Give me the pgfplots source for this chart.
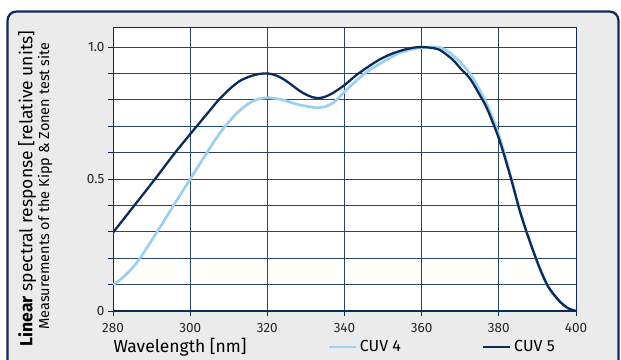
\documentclass[border=0pt]{standalone}
\usepackage{pgfplots}
\pgfplotsset{compat=1.18}
\usepackage{fontspec}
\setmainfont{Fira Sans}
\definecolor{navy}{HTML}{0B2B58}
\definecolor{lightb}{HTML}{9DCFF0}
\definecolor{gridc}{HTML}{2A4570}
\definecolor{panel}{HTML}{EBEBEB}

\pgfplotstableread{
x y
280 0.100
282 0.120
284 0.147
286 0.180
288 0.222
290 0.267
292 0.313
294 0.360
296 0.407
298 0.453
300 0.500
302 0.546
304 0.592
306 0.638
308 0.680
310 0.716
312 0.748
314 0.774
316 0.793
318 0.804
320.3 0.808
324 0.800
328 0.782
333 0.770
336 0.780
338 0.800
340 0.831
345.5 0.903
350 0.944
354 0.976
358 0.993
362 1.000
365 0.997
368 0.970
372.5 0.900
376.8 0.787
380 0.667
382.9 0.520
385.5 0.378
388 0.265
390.6 0.162
392.5 0.100
394 0.067
396 0.033
398 0.010
400 0.000
}\cuvfour

\pgfplotstableread{
x y
280 0.297
285 0.390
290.9 0.500
296.1 0.600
301.7 0.700
305 0.758
307.4 0.800
310 0.838
312.6 0.869
315 0.886
317.5 0.897
320 0.900
322 0.894
324 0.880
326 0.860
328 0.838
330 0.820
332 0.809
333.5 0.807
335 0.812
337 0.826
340 0.856
343 0.893
346 0.924
349 0.952
352 0.973
355 0.988
358 0.998
360 1.000
362 0.998
364.7 0.989
368 0.953
370 0.920
372.5 0.881
375 0.820
377 0.765
380 0.654
382.9 0.515
385.5 0.376
388 0.265
390.6 0.162
392.5 0.100
394 0.067
396 0.033
398 0.010
400 0.000
}\cuvfive

\begin{document}
\begin{tikzpicture}[x=1pt,y=1pt]
\useasboundingbox (0,0) rectangle (621,359);
\clip (0,0) rectangle (621,359);
\filldraw[fill=panel, draw=navy, line width=2.2pt, rounded corners=9pt] (7.5,-20) rectangle (618.5,347.5);
\begin{axis}[
  at={(113pt,48pt)}, anchor=south west, scale only axis,
  width=463pt, height=284pt,
  xmin=280, xmax=400, ymin=0, ymax=1.076,
  axis background/.style={fill=white},
  xtick={280,300,320,340,360,380,400},
  xticklabels={280,300,320,340,360,380,400},
  ytick={0,0.1,0.2,0.3,0.4,0.5,0.6,0.7,0.8,0.9,1.0},
  yticklabels={0,,,,,0.5,,,,,1.0},
  /pgf/number format/assume math mode=true,
  grid=major, grid style={gridc, line width=0.8pt},
  axis line style={navy, line width=0.8pt},
  tick style={navy, line width=0.8pt},
  tick align=outside, major tick length=5pt,
  xtick pos=bottom, ytick pos=left,
  ticklabel style={font=\fontsize{13.5}{13.5}\selectfont, text=black!85},
  xticklabel style={yshift=-4pt},
  legend columns=2,
  legend style={draw=none, fill=none, at={(axis description cs:0.4622,-0.127)}, anchor=west,
    font=\fontsize{16}{16}\selectfont, inner xsep=0pt, inner ysep=0pt,
    nodes={inner xsep=3pt, inner ysep=1pt},
    /tikz/every even column/.append style={column sep=78pt}},
  legend image code/.code={\draw[#1] (0pt,0pt) -- (27pt,0pt);},
]
\addplot[lightb, line width=2.7pt, smooth] table {\cuvfour};
\addlegendentry{CUV 4}
\addplot[navy, line width=2.3pt, smooth] table {\cuvfive};
\addlegendentry{CUV 5}
\draw[navy, line width=2pt] ([xshift=-5pt]rel axis cs:0,0) -- ([xshift=5pt]rel axis cs:1,0);
\end{axis}
\node[rotate=90, font=\fontsize{17.5}{17.5}\selectfont] at (27,170.5) {\textbf{Linear} spectral response [relative units]};
\node[rotate=90, font=\fontsize{14.5}{14.5}\selectfont] at (45,173) {Measurements of the Kipp \& Zonen test site};
\node[font=\fontsize{17.5}{17.5}\selectfont] at (180,12) {Wavelength [nm]};
\end{tikzpicture}
\end{document}
